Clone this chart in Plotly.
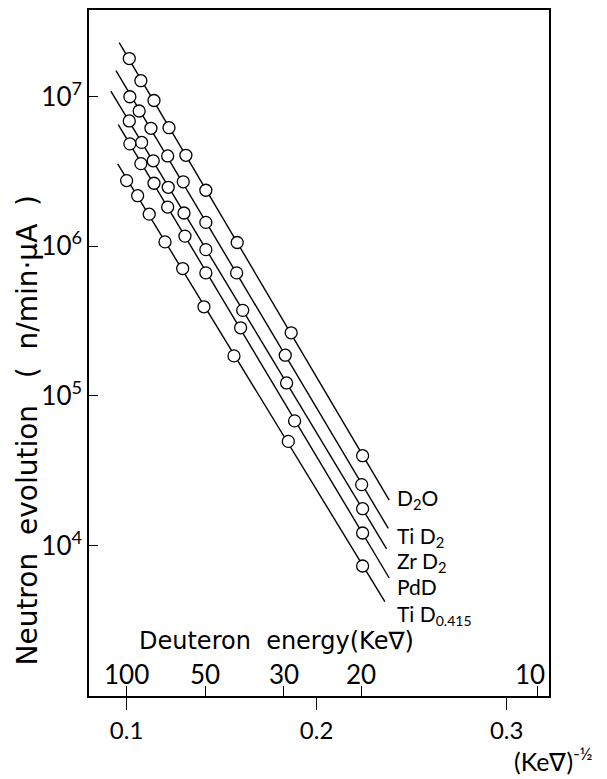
import numpy as np
import plotly.graph_objects as go

# ---- data ----
series_names = ["D2O", "TiD2", "ZrD2", "PdD", "TiD0.415"]
series_labels = ["D<sub>2</sub>O", "Ti D<sub>2</sub>", "Zr D<sub>2</sub>", "PdD",
                 "Ti D<sub><span style='font-size:14px'>0.415</span></sub>"]

x_d2o = [0.1014, 0.1075, 0.1144, 0.1223, 0.1312, 0.1417, 0.1582, 0.1866, 0.2242]
y_d2o = [1.80e7, 1.28e7, 9.44e6, 6.21e6, 4.06e6, 2.37e6, 1.06e6, 2.64e5, 3.98e4]

x_tid2 = [0.1017, 0.1066, 0.1128, 0.1216, 0.1298, 0.1417, 0.1579, 0.1835, 0.2237]
y_tid2 = [1.00e7, 8.03e6, 6.15e6, 4.02e6, 2.70e6, 1.445e6, 6.64e5, 1.87e5, 2.55e4]

x_zrd2 = [0.1014, 0.1079, 0.1140, 0.1219, 0.1302, 0.1417, 0.1611, 0.1842, 0.2242]
y_zrd2 = [6.89e6, 4.95e6, 3.73e6, 2.48e6, 1.67e6, 9.50e5, 3.73e5, 1.22e5, 1.76e4]

x_pdd = [0.1017, 0.1075, 0.1144, 0.1216, 0.1307, 0.1417, 0.1600, 0.1884, 0.2242]
y_pdd = [4.84e6, 3.57e6, 2.64e6, 1.83e6, 1.17e6, 6.64e5, 2.85e5, 6.80e4, 1.21e4]

x_tid0415 = [0.1000, 0.1058, 0.1119, 0.1202, 0.1295, 0.1407, 0.1565, 0.1851, 0.2242]
y_tid0415 = [2.75e6, 2.18e6, 1.64e6, 1.07e6, 7.10e5, 3.94e5, 1.85e5, 4.96e4, 7.28e3]

# extent of each straight (fitted) line in x
line_x_start = [0.0961, 0.0944, 0.0917, 0.0956, 0.0953]
line_x_end = [0.2382, 0.2377, 0.2368, 0.2382, 0.2359]

# where the series labels sit (x, log10 y)
label_x = [0.2412] * 5
label_logy = [4.313, 4.053, 3.887, 3.727, 3.535]

# axes
x_ticks = [0.1, 0.2, 0.3]
x_ticktext = ["0.1", "0.2", "0.3"]
y_ticks = [1e4, 1e5, 1e6, 1e7]
y_ticktext = ["10<sup>4</sup>", "10<sup>5</sup>", "10<sup>6</sup>", "10<sup>7</sup>"]
energy_ticks = [100, 50, 30, 20, 10]

xs = [x_d2o, x_tid2, x_zrd2, x_pdd, x_tid0415]
ys = [y_d2o, y_tid2, y_zrd2, y_pdd, y_tid0415]

FONT = "Lato"
WIDE = "DejaVu Sans"
fig = go.Figure()

for i in range(5):
    x = np.array(xs[i])
    ly = np.log10(np.array(ys[i]))
    m, c = np.polyfit(x, ly, 1)
    lx = np.array([line_x_start[i], line_x_end[i]])
    fig.add_trace(go.Scatter(x=lx, y=10 ** (m * lx + c), mode="lines",
                             line=dict(color="black", width=1.4),
                             showlegend=False, hoverinfo="skip"))
for i in range(5):
    fig.add_trace(go.Scatter(x=xs[i], y=ys[i], mode="markers", name=series_names[i],
                             marker=dict(symbol="circle", size=12, color="white",
                                         line=dict(color="black", width=1.3)),
                             showlegend=False))

# invisible trace for the energy axis
e_pos = [1 / np.sqrt(e) for e in energy_ticks]
fig.add_trace(go.Scatter(x=e_pos, y=[1e5] * len(e_pos), xaxis="x2", mode="markers",
                         marker=dict(opacity=0), showlegend=False, hoverinfo="skip"))

xr = [0.0802, 0.3223]
fig.update_layout(
    width=607, height=779, autosize=False,
    margin=dict(l=81, r=66, t=0, b=91),
    plot_bgcolor="white", paper_bgcolor="white",
    font=dict(family=FONT, color="black"),
    xaxis=dict(range=xr, tickvals=x_ticks, ticktext=x_ticktext, ticks="outside",
               ticklen=12, tickwidth=1.3, tickcolor="black",
               showline=True, mirror=True, linecolor="black", linewidth=1.5,
               showgrid=False, zeroline=False, tickfont=dict(size=24, family=FONT)),
    xaxis2=dict(range=xr, overlaying="x", anchor="y", side="bottom",
                tickvals=e_pos, ticks="inside", ticklen=10, tickwidth=1.3,
                tickcolor="black", showticklabels=False, showline=False,
                showgrid=False, zeroline=False),
    yaxis=dict(type="log", range=[2.993, 7.58], tickvals=y_ticks, ticktext=y_ticktext,
               ticks="inside", ticklen=9, tickwidth=1.3, tickcolor="black",
               showline=True, mirror=True, linecolor="black", linewidth=1.5,
               showgrid=False, zeroline=False, tickfont=dict(size=26, family=FONT)),
)

ann = []
for i in range(5):
    ann.append(dict(x=label_x[i], y=label_logy[i], xref="x", yref="y", text=series_labels[i],
                    showarrow=False, xanchor="left", yanchor="middle",
                    font=dict(size=21, family=FONT)))
for e, p in zip(energy_ticks, e_pos):
    ann.append(dict(x=p, y=0.032, xref="x", yref="paper", text=str(e), showarrow=False,
                    xanchor="center", yanchor="middle", xshift=-7 if e == 10 else 0,
                    font=dict(size=26, family=FONT)))
ann.append(dict(x=0.104, y=0.08, xref="paper", yref="paper",
                text="Deuteron  energy(Ke\u2207)", showarrow=False,
                xanchor="left", yanchor="middle", font=dict(size=24, family=WIDE)))
ann.append(dict(x=0.9196, y=-0.093, xref="paper", yref="paper",
                text="(Ke\u2207)<sup>-\u00bd</sup>", showarrow=False,
                xanchor="left", yanchor="middle", font=dict(size=25, family=FONT)))
ann.append(dict(x=-0.1326, y=0.387, xref="paper", yref="paper",
                text="Neutron  evolution   (  n/min\u00b7\u03bcA  )", showarrow=False,
                textangle=-90, xanchor="center", yanchor="middle",
                font=dict(size=28, family=WIDE)))
fig.update_layout(annotations=ann)

fig.write_html("out.html")
